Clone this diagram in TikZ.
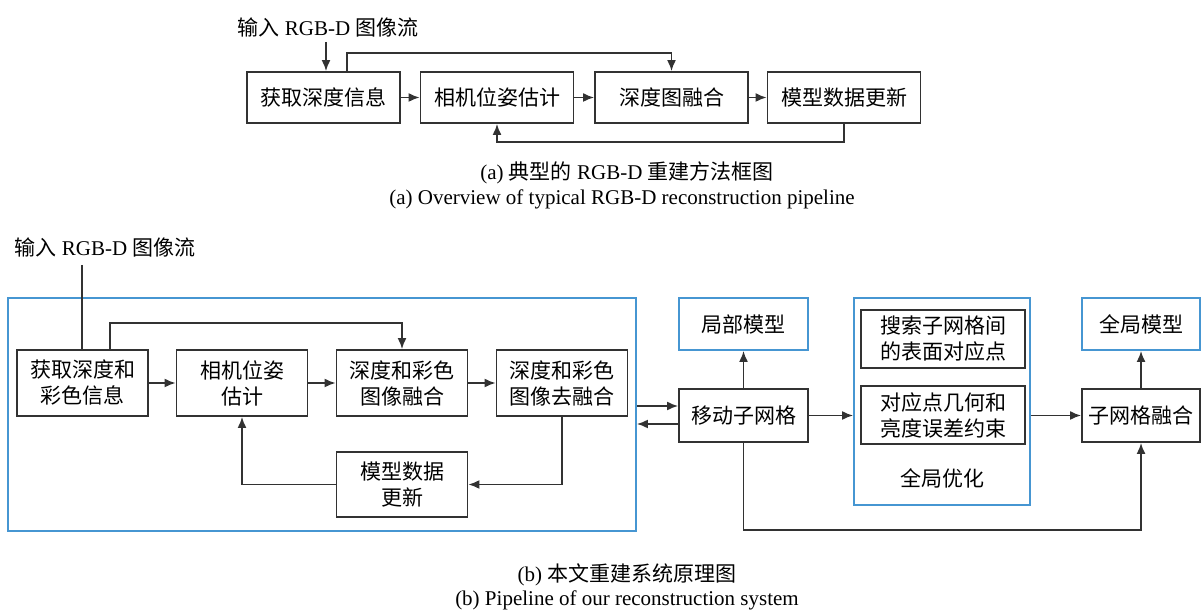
\documentclass[tikz,border=0pt]{standalone}
\usepackage{fontspec}
\setmainfont{Liberation Serif}
\newfontfamily\cjk{Noto Sans CJK SC}
\usetikzlibrary{arrows.meta,calc}
\definecolor{lineg}{RGB}{50,50,50}
\definecolor{bluel}{RGB}{70,150,210}
\tikzset{
  bx/.style={draw=lineg,line width=0.9pt,inner sep=0pt,align=center,font=\cjk\fontsize{10.5}{13}\selectfont},
  bbx/.style={draw=bluel,line width=0.9pt,inner sep=0pt,align=center,font=\cjk\fontsize{10.5}{13}\selectfont},
  conn/.style={draw=lineg,line width=0.9pt},
  arr/.style={conn,-{Latex[length=5.5pt,width=4.5pt]}},
  lbl/.style={inner sep=0pt,font=\fontsize{10.5}{13}\selectfont},
  captxt/.style={inner sep=0pt,font=\fontsize{10.5}{13}\selectfont}
}
\begin{document}
\begin{tikzpicture}[x=0.5pt,y=-0.5pt]
\useasboundingbox (0,0) rectangle (1202,613);
% ---------- (a) ----------
\node[lbl] (inA) at (328,27) {{\cjk 输入} RGB-D {\cjk 图像流}};
\node[bx,minimum width=76.5pt,minimum height=25.5pt] (a1) at (323.5,97.5) {获取深度信息};
\node[bx,minimum width=76.5pt,minimum height=25.5pt] (a2) at (497,97.5) {相机位姿估计};
\node[bx,minimum width=76.5pt,minimum height=25.5pt] (a3) at (671.5,97.5) {深度图融合};
\node[bx,minimum width=76.5pt,minimum height=25.5pt] (a4) at (844,97.5) {模型数据更新};
\coordinate (inAend) at (326,42);
\coordinate (skA) at (347,53);
\coordinate (fbA) at (0,142);
\draw[arr] (inAend) -- (inAend |- a1.north);
\draw[arr] (a1.east) -- (a2.west);
\draw[arr] (a2.east) -- (a3.west);
\draw[arr] (a3.east) -- (a4.west);
\draw[arr] (skA |- a1.north) -- (skA) -| (a3.north);
\draw[arr] (a4.south) -- (a4.south |- fbA) -| (a2.south);
\node[captxt] (capa1) at (627,173) {(a) {\cjk 典型的} RGB-D {\cjk 重建方法框图}};
\node[captxt] (capa2) at (622,199) {(a) Overview of typical RGB-D reconstruction pipeline};
% ---------- (b) ----------
\node[lbl] (inB) at (105,247) {{\cjk 输入} RGB-D {\cjk 图像流}};
\node[draw=bluel,line width=0.9pt,inner sep=0pt,minimum width=314pt,minimum height=116.5pt] (big) at (322,414.5) {};
\node[bx,minimum width=65.5pt,minimum height=33pt] (b1) at (82.5,383) {获取深度和\\彩色信息};
\node[bx,minimum width=65.5pt,minimum height=33pt] (b2) at (242,383) {相机位姿\\估计};
\node[bx,minimum width=65.5pt,minimum height=33pt] (b3) at (402,383) {深度和彩色\\图像融合};
\node[bx,minimum width=65.5pt,minimum height=33pt] (b4) at (562,383) {深度和彩色\\图像去融合};
\node[bx,minimum width=65.5pt,minimum height=32.5pt] (b5) at (402,484.5) {模型数据\\更新};
\coordinate (inBtop) at (82,265);
\coordinate (skB) at (110,323);
\draw[conn] (inBtop) -- (inBtop |- b1.north);
\draw[arr] (skB |- b1.north) -- (skB) -| (b3.north);
\draw[arr] (b1.east) -- (b2.west);
\draw[arr] (b2.east) -- (b3.west);
\draw[arr] (b3.east) -- (b4.west);
\draw[arr] (b4.south) |- (b5.east);
\draw[arr] (b5.west) -| (b2.south);
% middle
\node[bx,minimum width=64.5pt,minimum height=26.5pt] (move) at (743.5,415.5) {移动子网格};
\node[bbx,minimum width=64.5pt,minimum height=26pt] (local) at (743.5,324) {局部模型};
\coordinate (r1) at (0,406);
\coordinate (r2) at (0,424);
\draw[arr] (big.east |- r1) -- (move.west |- r1);
\draw[arr] (move.west |- r2) -- (big.east |- r2);
\draw[arr] (move.north) -- (local.south);
% global optimisation
\node[draw=bluel,line width=0.9pt,inner sep=0pt,minimum width=88pt,minimum height=103.5pt] (gopt) at (942,401.5) {};
\node[bx,minimum width=82pt,minimum height=29pt] (g1) at (943,339) {搜索子网格间\\的表面对应点};
\node[bx,minimum width=82pt,minimum height=29pt] (g2) at (943,415) {对应点几何和\\亮度误差约束};
\node[lbl,font=\cjk\fontsize{10.5}{13}\selectfont] (gl) at (942,478) {全局优化};
\node[bx,minimum width=59pt,minimum height=26.5pt] (fuse) at (1141,415.5) {子网格融合};
\node[bbx,minimum width=59pt,minimum height=26pt] (glob) at (1141,324) {全局模型};
\draw[arr] (move.east) -- (gopt.west |- move.east);
\draw[arr] (gopt.east |- fuse.west) -- (fuse.west);
\draw[arr] (fuse.north) -- (glob.south);
\coordinate (bot) at (0,530);
\draw[arr] (move.south) -- (move.south |- bot) -| (fuse.south);
\node[captxt] (capb1) at (627,575) {(b) {\cjk 本文重建系统原理图}};
\node[captxt] (capb2) at (627,600) {(b) Pipeline of our reconstruction system};
\end{tikzpicture}
\end{document}
